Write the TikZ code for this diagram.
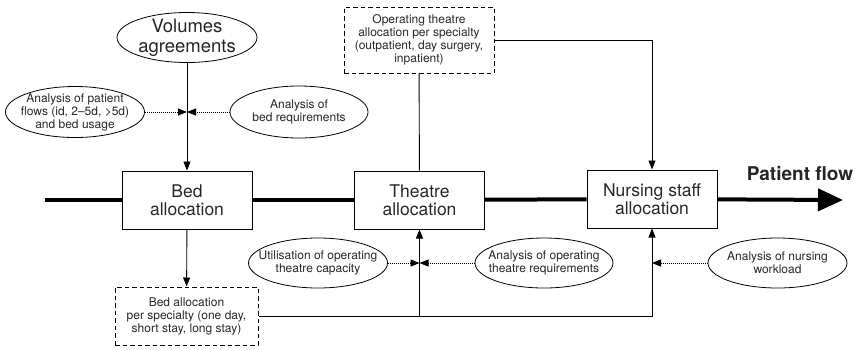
\documentclass[tikz,border=0pt]{standalone}
\usepackage{fontspec}
\setmainfont{TeX Gyre Heros}
\usetikzlibrary{positioning, arrows.meta, shapes.geometric, calc}

\begin{document}
\begin{tikzpicture}[x=1pt, y=-1pt,
        every node/.style={text=black!85, align=center},
        box/.style={draw, line width=1pt, inner sep=0pt, minimum width=130pt, minimum height=58pt,
            font=\fontsize{17.5}{18.5}\selectfont},
        specbox/.style={draw, line width=1pt, dash pattern=on 4.5pt off 3pt, inner sep=0pt,
            font=\fontsize{12}{13}\selectfont},
        oval/.style={draw, ellipse, line width=0.8pt, inner sep=0pt, minimum width=139pt, minimum height=50pt},
        ovaltext/.style={font=\fontsize{12}{13}\selectfont},
        link/.style={line width=0.9pt, -{Triangle[length=9pt, width=7pt]}},
        hint/.style={line width=0.8pt, dash pattern=on 0.8pt off 1.2pt, -{Triangle[length=9pt, width=7pt]}},
        flow/.style={line width=4pt}]

        \useasboundingbox (0,0) rectangle (865,349);

        % allocation boxes on the patient flow
        \node[box] (bed) at (187,200) {Bed\\allocation};
        \node[box] (theatre) at (419.5,200) {Theatre\\allocation};
        \node[box] (nurs) at (652,199) {Nursing staff\\allocation};

        % dashed boxes
        \node[specbox, minimum width=150pt, minimum height=66pt] (otspec) at (419,40)
            {Operating theatre\\allocation per specialty\\(outpatient, day surgery,\\inpatient)};
        \node[specbox, minimum width=143pt, minimum height=58pt] (bedspec) at (186.5,316)
            {Bed allocation\\per specialty (one day,\\short stay, long stay)};

        % ovals
        \node[oval, minimum width=140pt, label={[font=\fontsize{18.5}{20}\selectfont]center:{Volumes\\agreements}}]
            (vol) at (187,37.5) {};
        \node[oval, minimum height=51pt, label={[ovaltext]center:{Analysis of patient\\flows (id, 2--5d, >5d)\\and bed usage}}]
            (pflow) at (75,112) {};
        \node[oval, minimum width=138pt, minimum height=52pt, label={[ovaltext]center:{Analysis of\\bed requirements}}]
            (bedreq) at (299,112) {};
        \node[oval, label={[ovaltext]center:{Utilisation of operating\\theatre capacity}}]
            (util) at (318,263) {};
        \node[oval, minimum width=138pt, label={[ovaltext]center:{Analysis of operating\\theatre requirements}}]
            (otreq) at (544,263) {};
        \node[oval, label={[ovaltext]center:{Analysis of nursing\\workload}}]
            (nwork) at (777.5,263) {};

        % junction points
        \coordinate (bedin) at (bed |- pflow);
        \coordinate (thin) at (theatre |- util);
        \coordinate (nursin) at (nurs |- nwork);
        \coordinate (thjoin) at (theatre |- bedspec.east);
        \coordinate (flowstart) at (45,200);
        \coordinate (flowend) at (843,200);

        % patient flow
        \draw[flow] (flowstart) -- (bed);
        \draw[flow] (bed) -- (theatre);
        \draw[flow] (theatre) -- (nurs);
        \draw[flow, -{Triangle[length=25pt, width=22pt]}] (nurs) -- (flowend);
        \node[font=\bfseries\fontsize{19}{20}\selectfont, anchor=base] (pflowlbl) at (800,180) {Patient flow};

        % solid connectors
        \draw[link] (vol) -- (bed);
        \draw[link] (bed) -- (bedspec);
        \draw[line width=0.9pt] (otspec) -- (theatre);
        \draw[link] (otspec.east) -| (nurs);
        \draw[link] (bedspec.east) -| (nurs);
        \draw[link] (thjoin) -- (theatre);

        % dotted inputs
        \foreach \from/\to in {pflow/bedin, bedreq/bedin, util/thin, otreq/thin, nwork/nursin}
        {
            \draw[hint] (\from) -- (\to);
        }
    \end{tikzpicture}
\end{document}
